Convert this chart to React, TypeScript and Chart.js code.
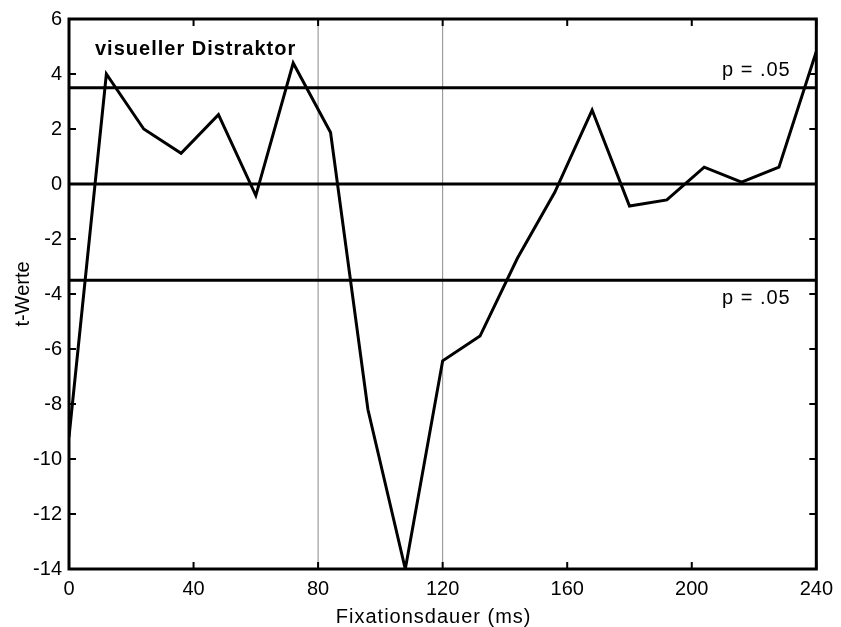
import React, { useEffect, useRef } from 'react';
import { Chart, registerables } from 'chart.js';

Chart.register(...registerables);

const timeMs = [0, 12, 24, 36, 48, 60, 72, 84, 96, 108, 120, 132, 144, 156, 168, 180, 192, 204, 216, 228, 240];
const tValues = [-9.2, 4.0, 2.0, 1.12, 2.52, -0.42, 4.4, 1.87, -8.2, -14.0, -6.43, -5.53, -2.7, -0.3, 2.69, -0.8, -0.58, 0.61, 0.07, 0.61, 4.82];
const thresholdValues = [3.5, -3.5];
const zeroValue = [0];
const markerTimes = [80, 120];
const xTicks = [0, 40, 80, 120, 160, 200, 240];
const yTicks = [-14, -12, -10, -8, -6, -4, -2, 0, 2, 4, 6];
const xRange = [0, 240];
const yRange = [-14, 6];

const FONT = '"Liberation Sans", Arial, sans-serif';

const decorPlugin = {
  id: 'decor',
  afterDatasetsDraw(chart: any) {
    const { ctx, chartArea: a, scales } = chart;
    const x = scales.x;
    const y = scales.y;
    ctx.save();
    ctx.strokeStyle = '#000';
    ctx.lineWidth = 2;
    const tl = 7;
    ctx.beginPath();
    xTicks.forEach((v) => {
      const px = x.getPixelForValue(v);
      ctx.moveTo(px, a.bottom);
      ctx.lineTo(px, a.bottom - tl);
      ctx.moveTo(px, a.top);
      ctx.lineTo(px, a.top + tl);
    });
    yTicks.forEach((v) => {
      const py = y.getPixelForValue(v);
      ctx.moveTo(a.left, py);
      ctx.lineTo(a.left + tl, py);
      ctx.moveTo(a.right, py);
      ctx.lineTo(a.right - tl, py);
    });
    ctx.stroke();
    ctx.lineWidth = 3;
    ctx.strokeRect(a.left, a.top, a.right - a.left, a.bottom - a.top);

    ctx.fillStyle = '#000';
    ctx.textAlign = 'left';
    ctx.textBaseline = 'alphabetic';
    (ctx as any).letterSpacing = '1px';
    ctx.font = 'bold 20px ' + FONT;
    ctx.fillText('visueller Distraktor', a.left + 26, a.top + 36);
    ctx.font = '20px ' + FONT;
    ctx.fillText('p = .05', a.left + 653, y.getPixelForValue(thresholdValues[0]) - 12);
    ctx.fillText('p = .05', a.left + 653, y.getPixelForValue(thresholdValues[1]) + 24);
    ctx.textAlign = 'center';
    ctx.fillText('Fixationsdauer (ms)', (a.left + a.right) / 2 - 9, 623);
    ctx.restore();
  },
};

export default function App() {
  const ref = useRef<HTMLCanvasElement | null>(null);

  useEffect(() => {
    document.body.style.margin = '0';
    const canvas = ref.current;
    if (!canvas) return;

    const lineOf = (xs: number[], ys: number[]) => xs.map((v, i) => ({ x: v, y: ys[i] }));

    const datasets: any[] = [
      {
        data: lineOf(timeMs, tValues),
        borderColor: '#000',
        borderWidth: 3,
        pointRadius: 0,
        tension: 0,
        borderJoinStyle: 'miter',
      },
      ...thresholdValues.concat(zeroValue).map((v) => ({
        data: lineOf(xRange, [v, v]),
        borderColor: '#000',
        borderWidth: 3,
        pointRadius: 0,
      })),
      ...markerTimes.map((t) => ({
        data: lineOf([t, t], yRange),
        borderColor: '#8a8a8a',
        borderWidth: 1,
        pointRadius: 0,
      })),
    ];

    const chart = new Chart(canvas, {
      type: 'line',
      data: { datasets },
      options: {
        animation: false,
        responsive: false,
        devicePixelRatio: 1,
        events: [],
        layout: { padding: { left: 0, top: 15, right: 22, bottom: 0 } },
        plugins: { legend: { display: false }, tooltip: { enabled: false } },
        scales: {
          x: {
            type: 'linear',
            min: xRange[0],
            max: xRange[1],
            grid: { display: false, drawTicks: false },
            border: { display: false },
            afterBuildTicks: (s: any) => {
              s.ticks = xTicks.map((v) => ({ value: v }));
            },
            afterFit: (s: any) => {
              s.height = 58;
            },
            ticks: {
              color: '#000',
              font: { family: FONT, size: 20 },
              padding: 8,
              maxRotation: 0,
              autoSkip: false,
            },
          },
          y: {
            type: 'linear',
            min: yRange[0],
            max: yRange[1],
            grid: { display: false, drawTicks: false },
            border: { display: false },
            afterBuildTicks: (s: any) => {
              s.ticks = yTicks.map((v) => ({ value: v }));
            },
            afterFit: (s: any) => {
              s.width = 69;
            },
            ticks: {
              color: '#000',
              font: { family: FONT, size: 20 },
              padding: 7,
              autoSkip: false,
            },
            title: {
              display: true,
              text: 't-Werte',
              color: '#000',
              font: { family: FONT, size: 20 },
              padding: { top: 11, bottom: 0 },
            },
          },
        },
      },
      plugins: [decorPlugin],
    });

    return () => chart.destroy();
  }, []);

  return (
    <div style={{ position: 'absolute', left: 0, top: 0, width: 841, height: 627, background: '#fff' }}>
      <canvas ref={ref} width={841} height={627} />
    </div>
  );
}
